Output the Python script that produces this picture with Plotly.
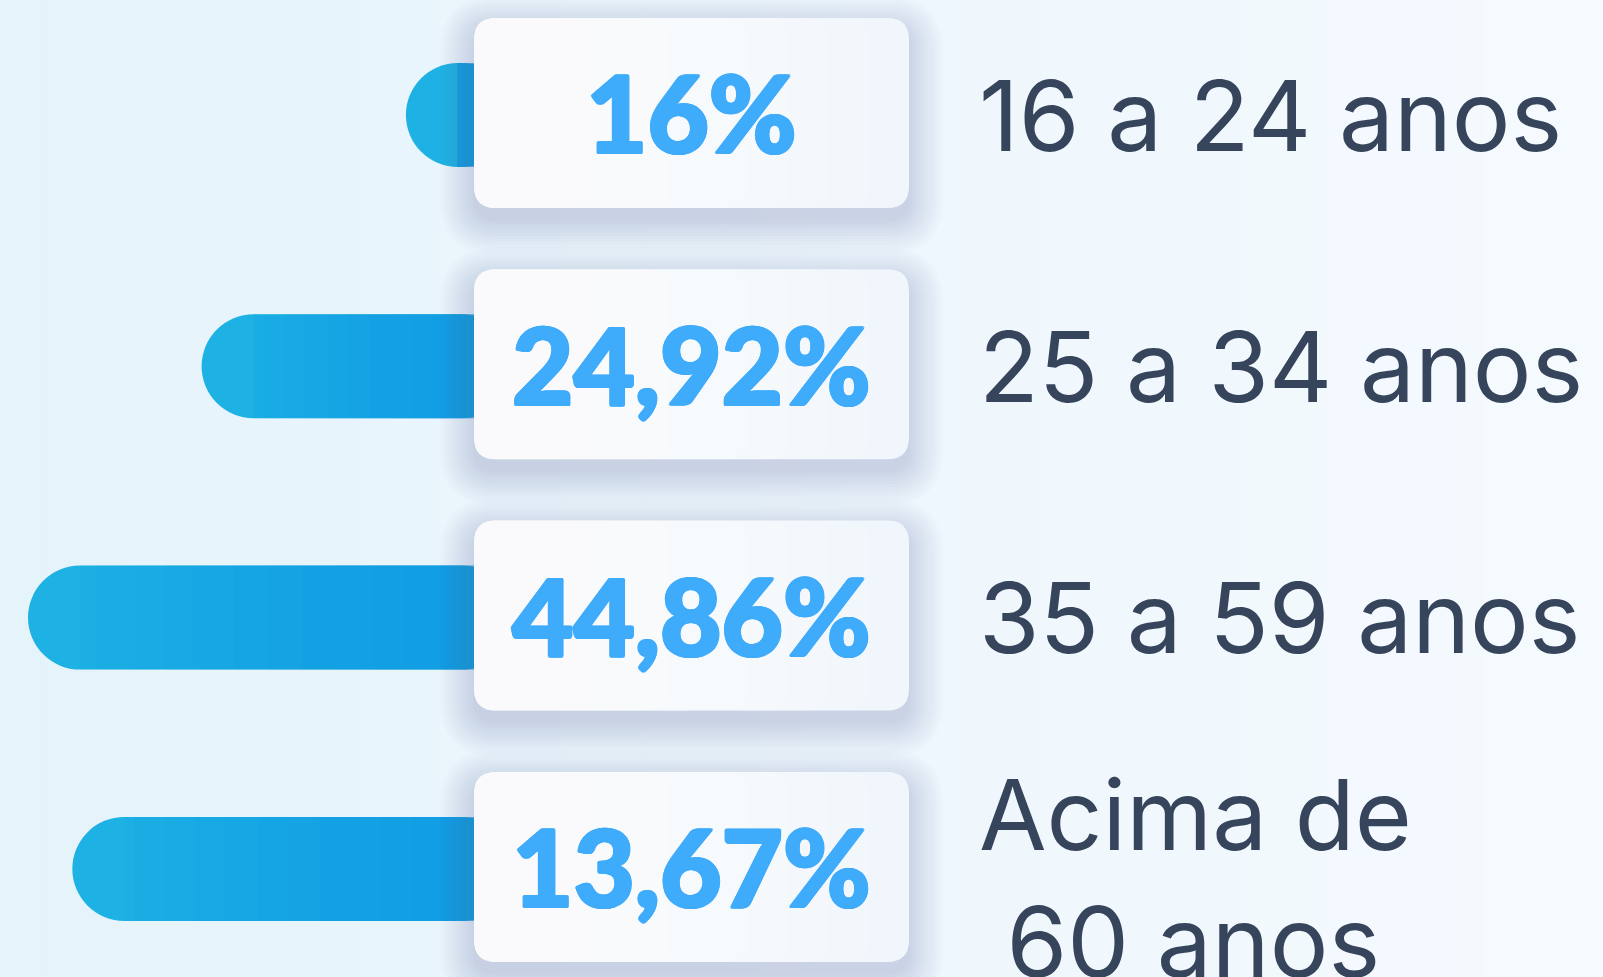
import plotly.graph_objects as go

# ---- data ----
categories = ["16 a 24 anos", "25 a 34 anos", "35 a 59 anos", "Acima de<br>\u00a060 anos"]
percent_values = [16.0, 24.92, 44.86, 13.67]
percent_labels = ["16%", "24,92%", "44,86%", "13,67%"]
# visual bar lengths as drawn in the source (same scale as the longest bar = 44.86)
bar_lengths = [6.85, 27.4, 44.86, 40.4]

W, H = 1603, 977
PX_PER_UNIT = 446 / 44.86          # horizontal scale
BASE_PX = 474                      # where the bars start (card left edge)
ROW0_PX, ROW_STEP = 115, 251.3     # row centre of first row, spacing
BAR_PX = 104
HIDDEN = 4.0                       # part of each bar tucked under its card

x_range = [BASE_PX / PX_PER_UNIT, -(W - BASE_PX) / PX_PER_UNIT]
y_range = [(H - ROW0_PX) / ROW_STEP, -ROW0_PX / ROW_STEP]
rows = list(range(len(categories)))

fig = go.Figure()

fig.add_trace(go.Bar(
    x=[v + HIDDEN for v in bar_lengths], y=rows, base=-HIDDEN, orientation="h",
    width=BAR_PX / ROW_STEP,
    marker=dict(color="#1eb2e4", line=dict(width=0), cornerradius="50%"),
    hoverinfo="skip", showlegend=False,
))
# darker right-hand tint (gradient feel), kept inside the straight part of each bar
r_units = (BAR_PX / 2) / PX_PER_UNIT
for s in range(1, 13):
    frac = 1 - s / 13
    fig.add_trace(go.Bar(
        x=[max(0.0, min(v * frac, v - r_units)) + HIDDEN for v in bar_lengths], y=rows,
        base=-HIDDEN, orientation="h", width=BAR_PX / ROW_STEP,
        marker=dict(color="rgba(16,150,226,0.075)", line=dict(width=0), cornerradius=0),
        hoverinfo="skip", showlegend=False,
    ))

shapes = []

# background gradient stripes
bg_from = (229, 243, 251)
bg_to = (245, 250, 254)
n = 40
for i in range(n):
    t = i / (n - 1)
    c = tuple(round(a + (b - a) * t) for a, b in zip(bg_from, bg_to))
    shapes.append(dict(type="rect", xref="paper", yref="paper",
                       x0=i / n, x1=(i + 1) / n + 0.002, y0=0, y1=1,
                       fillcolor="rgb(%d,%d,%d)" % c, line=dict(width=0), layer="below"))


def rrect(x0, y0, x1, y1, r):
    # pixel coords (y down) -> paper path
    def P(x, y):
        return "%.5f,%.5f" % (x / W, 1 - y / H)
    return ("M " + P(x0 + r, y0) + " L " + P(x1 - r, y0) +
            " Q " + P(x1, y0) + " " + P(x1, y0 + r) +
            " L " + P(x1, y1 - r) + " Q " + P(x1, y1) + " " + P(x1 - r, y1) +
            " L " + P(x0 + r, y1) + " Q " + P(x0, y1) + " " + P(x0, y1 - r) +
            " L " + P(x0, y0 + r) + " Q " + P(x0, y0) + " " + P(x0 + r, y0) + " Z")


PCT_COLOR = "#3fabfb"
bold_shadow = ", ".join("%gpx %gpx 0 %s" % (dx, dy, PCT_COLOR)
                        for dx, dy in [(1.6, 0), (-1.6, 0), (0, 1.2), (0, -1.2),
                                       (1.1, 0.9), (-1.1, -0.9), (1.1, -0.9), (-1.1, 0.9)])

CARD_X0, CARD_X1 = 474, 909
CARD_H = 190
annotations = []
for i in rows:
    cy = ROW0_PX + ROW_STEP * i - 2
    y0, y1 = cy - CARD_H / 2, cy + CARD_H / 2
    # soft shadow
    for k in range(34, 0, -3):
        shapes.append(dict(type="path", xref="paper", yref="paper",
                           path=rrect(CARD_X0 - k, y0 - k + 12, CARD_X1 + k, y1 + k + 12, 22 + k),
                           fillcolor="rgba(95,125,155,0.018)", line=dict(width=0), layer="above"))
    shapes.append(dict(type="path", xref="paper", yref="paper",
                       path=rrect(CARD_X0, y0, CARD_X1, y1, 22),
                       fillcolor="#f0f6fc", line=dict(width=0), layer="above"))
    # whiter towards the left
    for k in range(1, 9):
        shapes.append(dict(type="path", xref="paper", yref="paper",
                           path=rrect(CARD_X0, y0, CARD_X1 - k * 40, y1, 22),
                           fillcolor="rgba(255,255,255,0.16)", line=dict(width=0), layer="above"))
    annotations.append(dict(
        x=(CARD_X0 + CARD_X1) / 2 / W, xref="paper", y=i - 0.01, yref="y",
        text=percent_labels[i], showarrow=False, xanchor="center", yanchor="middle",
        font=dict(family="Lato", size=106, color=PCT_COLOR, weight=900, shadow=bold_shadow),
    ))
    annotations.append(dict(
        x=977 / W, xref="paper", y=i + (0.035 if "<br>" in categories[i] else 0), yref="y",
        text=categories[i], showarrow=False, xanchor="left", yanchor="middle", align="left",
        font=dict(family="Inter", size=98, color="#36455c", weight=400),
    ))

fig.update_layout(
    width=W, height=H,
    margin=dict(l=0, r=0, t=0, b=0),
    paper_bgcolor="#edf6fc", plot_bgcolor="rgba(0,0,0,0)",
    barmode="overlay",
    xaxis=dict(range=x_range, visible=False, fixedrange=True),
    yaxis=dict(range=y_range, visible=False, fixedrange=True),
    shapes=shapes, annotations=annotations,
)

fig.write_html("out.html", config={"displayModeBar": False},
               post_script="document.body.style.margin='0';document.body.style.overflow='hidden';")
